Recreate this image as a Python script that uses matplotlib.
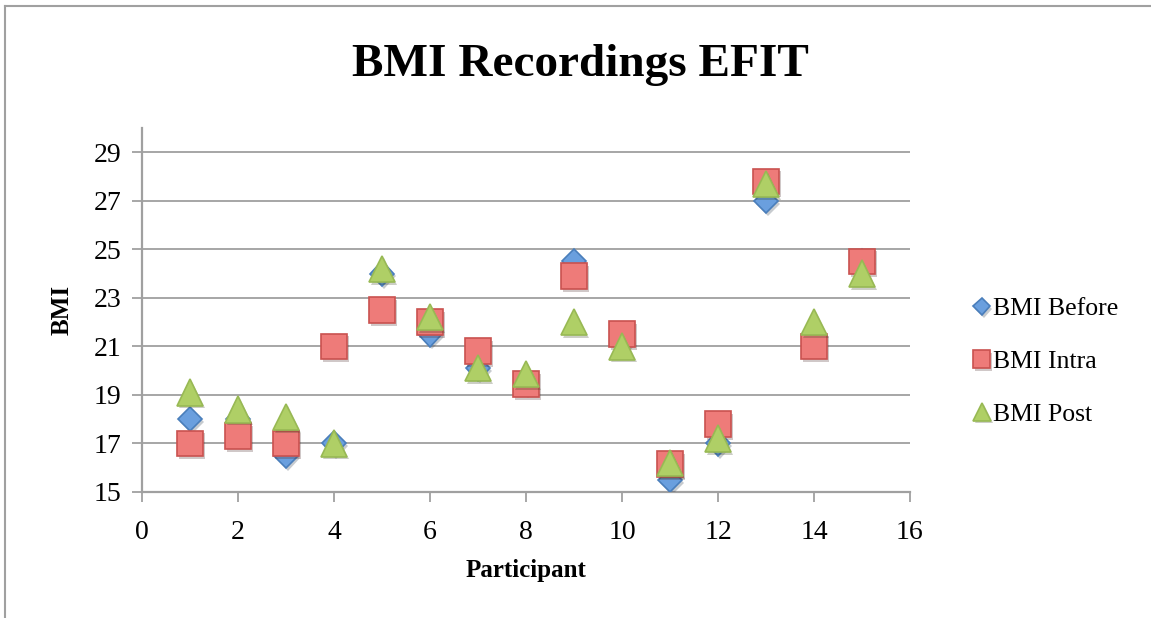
import matplotlib
matplotlib.use("Agg")
import matplotlib.pyplot as plt
import matplotlib.patheffects as pe
from matplotlib.lines import Line2D

# Participant numbers and BMI readings
participants = [1, 2, 3, 4, 5, 6, 7, 8, 9, 10, 11, 12, 13, 14, 15]
bmi_before = [18.0, 18.0, 16.5, 17.0, 24.0, 21.5, 20.1, 19.5, 24.5, 21.2, 15.5, 17.0, 27.0, 21.5, 24.5]
bmi_intra = [17.0, 17.3, 17.0, 21.0, 22.5, 22.0, 20.8, 19.45, 23.9, 21.5, 16.15, 17.8, 27.8, 21.0, 24.5]
bmi_post = [19.1, 18.4, 18.1, 17.0, 24.2, 22.2, 20.1, 19.85, 22.0, 21.0, 16.2, 17.2, 27.7, 22.0, 24.0]

y_ticks = [15, 17, 19, 21, 23, 25, 27, 29]
x_ticks = [0, 2, 4, 6, 8, 10, 12, 14, 16]

plt.rcParams['font.family'] = ['Liberation Serif', 'DejaVu Serif']

fig = plt.figure(figsize=(11.51, 6.18), dpi=100)
ax = fig.add_axes([0.1234, 0.2039, 0.6672, 0.589])

shadow = [pe.SimplePatchShadow(offset=(1.5, -2), alpha=0.25), pe.Normal()]

series = [
    ("BMI Before", bmi_before, "D", 12.5, "#6A9FDE", "#4A7EBB"),
    ("BMI Intra", bmi_intra, "s", 18.5, "#EE7B79", "#C9524F"),
    ("BMI Post", bmi_post, "^", 19, "#AFCF66", "#98B954"),
]
for label, vals, mk, ms, fc, ec in series:
    ax.plot(participants, vals, linestyle="none", marker=mk, markersize=ms,
            markerfacecolor=fc, markeredgecolor=ec, markeredgewidth=1.2,
            label=label, path_effects=shadow, zorder=3)

ax.set_xlim(0, 16)
ax.set_ylim(15, 30)
ax.set_xticks(x_ticks)
ax.set_yticks(y_ticks)
ax.tick_params(axis="both", labelsize=20, length=7, width=1.3, color="#A0A0A0",
               direction="out")
ax.tick_params(axis="x", pad=13)
ax.tick_params(axis="y", pad=8)
ax.grid(axis="y", color="#A6A6A6", linewidth=1.4)
ax.set_axisbelow(True)
for side in ("top", "right"):
    ax.spines[side].set_visible(False)
for side in ("left", "bottom"):
    ax.spines[side].set_color("#A0A0A0")
    ax.spines[side].set_linewidth(1.6)

ax.set_xlabel("Participant", fontsize=18, fontweight="bold", labelpad=10)
ax.set_ylabel("BMI", fontsize=18, fontweight="bold", labelpad=14)
fig.text(0.504, 0.895, "BMI Recordings EFIT", ha="center", va="center",
         fontsize=34, fontweight="bold")

leg = fig.legend(loc="center left", bbox_to_anchor=(0.826, 0.415), frameon=False,
                 fontsize=18.5, handlelength=0.6, handletextpad=0.15,
                 labelspacing=1.15, markerscale=0.68)

# chart area border (top and left edges visible)
fig.add_artist(Line2D([5 / 1151, 5 / 1151], [0, 1 - 6 / 618], color="#A0A0A0", linewidth=1.5))
fig.add_artist(Line2D([5 / 1151, 1], [1 - 6 / 618, 1 - 6 / 618], color="#A0A0A0", linewidth=1.5))

fig.savefig("out.png", dpi=100)
